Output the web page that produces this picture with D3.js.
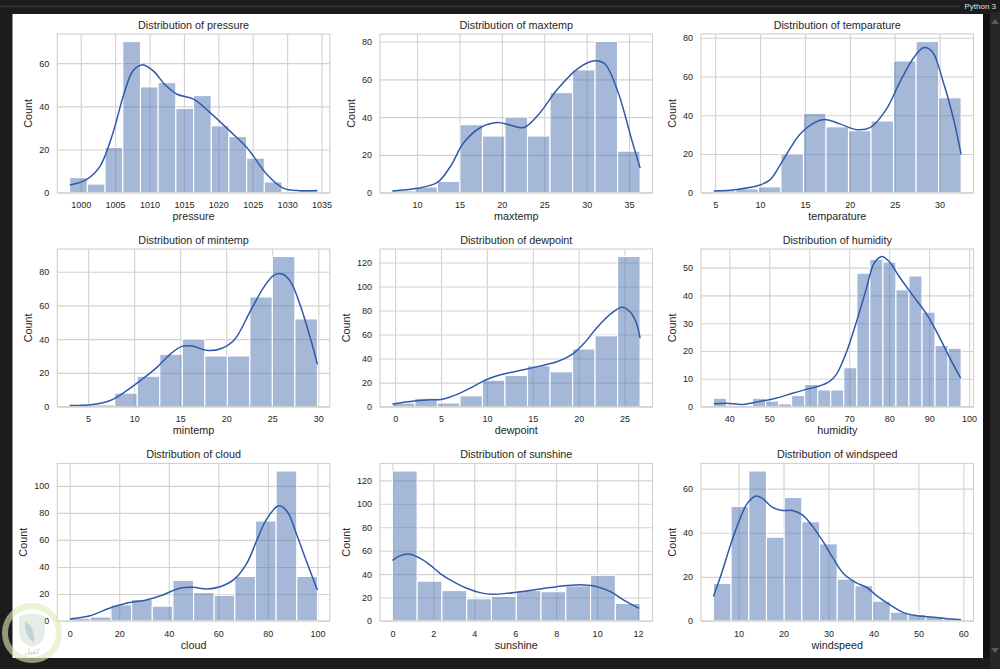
<!DOCTYPE html>
<html>
<head>
<meta charset="utf-8">
<script src="https://cdn.jsdelivr.net/npm/d3@7"></script>
<style>
  body { margin: 0; background: #1c1c1c; }
  svg text { font-family: "Liberation Sans", Arial, sans-serif; }
</style>
</head>
<body>
<svg id="fig" width="1000" height="669"></svg>
<script>
// histogram counts per bin, data range [min, max], kde as [x, count]
var pressureRange = [998.4, 1034.4];
var pressureCounts = [7, 4, 21, 70, 49, 51, 39, 45, 31, 26, 16, 5, 0, 1];
var pressureKde = [[998.4, 3.5], [1000.9, 6.2], [1002.8, 12.2], [1004.7, 27.8], [1006.2, 44.9], [1007.6, 56.5],
  [1008.9, 59.2], [1010.5, 56.5], [1012.4, 49.5], [1014.0, 45.6], [1016.4, 43.3], [1018.8, 37.1], [1021.7, 28.5],
  [1024.2, 20.7], [1027.1, 8.3], [1029.5, 2.0], [1031.9, 0.95], [1034.4, 1.0]];
var pressureXTicks = [1000, 1005, 1010, 1015, 1020, 1025, 1030, 1035];
var pressureYTicks = [0, 20, 40, 60];

var maxtempRange = [7.1, 36.3];
var maxtempCounts = [1, 3, 6, 36, 30, 40, 30, 53, 65, 80, 22];
var maxtempKde = [[7.1, 0.9], [10, 2.3], [12.4, 5.4], [13.95, 14], [15.5, 26.4], [17.5, 34.5], [19.5, 37.1],
  [21.05, 35.7], [22.6, 34.5], [24.2, 40.7], [26.6, 55], [28.96, 65.7], [30.9, 69.8], [32.1, 68.4],
  [33.7, 53.2], [35.3, 28.2], [36.3, 13]];
var maxtempXTicks = [10, 15, 20, 25, 30, 35];
var maxtempYTicks = [0, 20, 40, 60, 80];

var temparatureRange = [4.8, 32.4];
var temparatureCounts = [1, 2, 3, 20, 41, 34, 32, 37, 68, 78, 49];
var temparatureKde = [[4.85, 0.9], [7.4, 1.7], [10, 4], [11.1, 6.6], [12.6, 17.1], [14.45, 30.2], [16.3, 36.7],
  [17.4, 37.7], [18.9, 35.5], [20.8, 32.5], [22.3, 33.7], [24.1, 43.3], [25.6, 57.3], [27.1, 69.5],
  [28.2, 74.8], [29.15, 73], [30.4, 57.3], [31.6, 37.2], [32.4, 19.7]];
var temparatureXTicks = [5, 10, 15, 20, 25, 30];
var temparatureYTicks = [0, 20, 40, 60, 80];

var mintempRange = [3.0, 29.9];
var mintempCounts = [1, 1, 8, 18, 31, 40, 30, 30, 65, 89, 52];
var mintempKde = [[3.0, 0.6], [5.5, 1.2], [7.4, 3.6], [9.2, 9.5], [10.7, 15.5], [12.5, 23.4], [13.96, 31.3],
  [15.2, 35.7], [16.3, 35.9], [17.95, 33.3], [19.4, 34.3], [20.84, 39.3], [22.66, 57.1], [24.1, 71],
  [25.2, 78], [26.1, 78.6], [27.0, 74], [28.1, 59], [29.2, 39.3], [29.9, 25]];
var mintempXTicks = [5, 10, 15, 20, 25, 30];
var mintempYTicks = [0, 20, 40, 60, 80];

var dewpointRange = [-0.3, 26.7];
var dewpointCounts = [3, 7, 3, 9, 22, 26, 34, 29, 48, 59, 125];
var dewpointKde = [[-0.3, 2.2], [2.1, 4.7], [3.7, 5.6], [5.15, 6.1], [7.0, 11], [8.5, 16.7], [10.3, 23.6],
  [12.2, 27.8], [14.0, 30.6], [15.85, 33.9], [17.7, 37.5], [19.2, 43], [20.6, 52.8], [22.1, 66.7],
  [23.6, 77.8], [24.7, 82.8], [25.6, 79], [26.3, 69.4], [26.7, 57]];
var dewpointXTicks = [0, 5, 10, 15, 20, 25];
var dewpointYTicks = [0, 20, 40, 60, 80, 100, 120];

var humidityRange = [36, 98];
var humidityCounts = [3, 0, 0, 3, 2, 1, 4, 8, 6, 6, 14, 48, 53, 52, 42, 47, 34, 22, 21];
var humidityKde = [[36.1, 1], [39.2, 1.2], [43.3, 0.8], [47.5, 1.8], [51.7, 3], [55.8, 4.8], [59.2, 6.2],
  [62.5, 7.4], [65, 9], [66.7, 11.4], [69.2, 19.2], [71.7, 30], [74.2, 42], [76.25, 51.6], [78.2, 54],
  [80, 52.2], [82.5, 46.8], [85.8, 40.2], [89.2, 33.6], [92.5, 25.2], [95, 18], [97.9, 10.2]];
var humidityXTicks = [40, 50, 60, 70, 80, 90, 100];
var humidityYTicks = [0, 10, 20, 30, 40, 50];

var cloudRange = [0, 100];
var cloudCounts = [2, 3, 12, 16, 11, 30, 21, 19, 33, 74, 111, 33];
var cloudKde = [[0, 1.5], [7.85, 3.7], [16, 9.4], [22.8, 13.1], [30.9, 15.6], [37.6, 19.3], [44.4, 24.2],
  [49.8, 24.9], [55.3, 23.7], [60.7, 25.4], [66.1, 30.4], [71.5, 42.7], [75.6, 60], [79.7, 76],
  [84.4, 85.2], [87.8, 81], [91.9, 62.5], [95.9, 42.7], [100, 23]];
var cloudXTicks = [0, 20, 40, 60, 80, 100];
var cloudYTicks = [0, 20, 40, 60, 80, 100];

var sunshineRange = [0, 12.1];
var sunshineCounts = [128, 34, 26, 19, 21, 26, 25, 30, 39, 15];
var sunshineKde = [[0, 51.6], [0.36, 55.6], [0.85, 57], [1.34, 53.6], [1.83, 47.9], [2.32, 40.7], [2.97, 33.6],
  [3.63, 27.9], [4.28, 24.2], [4.93, 22.8], [5.59, 23.6], [6.24, 25], [6.89, 26.5], [7.71, 28.5],
  [8.53, 30.2], [9.34, 30.8], [10.0, 29.3], [10.65, 25], [11.3, 17.9], [12.05, 10.8]];
var sunshineXTicks = [0, 2, 4, 6, 8, 10, 12];
var sunshineYTicks = [0, 20, 40, 60, 80, 100, 120];

var windspeedRange = [4.4, 59.5];
var windspeedCounts = [17, 52, 68, 38, 56, 45, 35, 19, 16, 9, 4, 3, 2, 1];
var windspeedKde = [[4.4, 11.1], [6.25, 21.8], [8.14, 34], [10, 44.7], [11.87, 53.1], [13.74, 56.6],
  [15.24, 55.7], [17.48, 51.6], [19.73, 50.1], [21.97, 50.1], [24.2, 48.1], [26.46, 42.9], [28.7, 36.3],
  [30.95, 28.7], [33.2, 21.8], [36.2, 17.3], [38.45, 15.3], [40.7, 11.5], [43.7, 7.3], [46.67, 3.8],
  [49.7, 2.4], [53.4, 1.7], [57.2, 0.9], [59.5, 0.6]];
var windspeedXTicks = [10, 20, 30, 40, 50, 60];
var windspeedYTicks = [0, 20, 40, 60];

var panels = [
  { name: 'pressure', range: pressureRange, counts: pressureCounts, kde: pressureKde, xTicks: pressureXTicks, yTicks: pressureYTicks },
  { name: 'maxtemp', range: maxtempRange, counts: maxtempCounts, kde: maxtempKde, xTicks: maxtempXTicks, yTicks: maxtempYTicks },
  { name: 'temparature', range: temparatureRange, counts: temparatureCounts, kde: temparatureKde, xTicks: temparatureXTicks, yTicks: temparatureYTicks },
  { name: 'mintemp', range: mintempRange, counts: mintempCounts, kde: mintempKde, xTicks: mintempXTicks, yTicks: mintempYTicks },
  { name: 'dewpoint', range: dewpointRange, counts: dewpointCounts, kde: dewpointKde, xTicks: dewpointXTicks, yTicks: dewpointYTicks },
  { name: 'humidity', range: humidityRange, counts: humidityCounts, kde: humidityKde, xTicks: humidityXTicks, yTicks: humidityYTicks },
  { name: 'cloud', range: cloudRange, counts: cloudCounts, kde: cloudKde, xTicks: cloudXTicks, yTicks: cloudYTicks },
  { name: 'sunshine', range: sunshineRange, counts: sunshineCounts, kde: sunshineKde, xTicks: sunshineXTicks, yTicks: sunshineYTicks },
  { name: 'windspeed', range: windspeedRange, counts: windspeedCounts, kde: windspeedKde, xTicks: windspeedXTicks, yTicks: windspeedYTicks }
];

// layout of the 3x3 grid
var colLefts = [57.3, 380, 701];
var colWidth = 272.5;
var rowTops = [34, 249, 463.5];
var rowBottoms = [192.7, 406.6, 621];

var BAR = '#4c72b0';
var LINE = '#2f5aa8';
var GRID = '#d2d2d2';
var TEXT = '#262626';

var svg = d3.select('#fig');

// notebook frame
svg.append('rect').attr('width', 1000).attr('height', 669).attr('fill', '#1c1c1c');
svg.append('line').attr('x1', 0).attr('x2', 960).attr('y1', 6.5).attr('y2', 6.5)
  .attr('stroke', '#3a3a3a').attr('stroke-width', 1.5);
svg.append('text').attr('x', 996).attr('y', 9).attr('text-anchor', 'end')
  .attr('font-size', 8).attr('fill', '#e0e0e0').text('Python 3');
svg.append('rect').attr('x', 983).attr('y', 14).attr('width', 7).attr('height', 644).attr('fill', '#111');
svg.append('rect').attr('x', 990).attr('y', 12).attr('width', 10).attr('height', 657).attr('fill', '#262626');
svg.append('path').attr('d', 'M991,24 L995,19 L999,24 Z').attr('fill', '#5a5a5a');
svg.append('path').attr('d', 'M991,648 L995,653 L999,648 Z').attr('fill', '#5a5a5a');
svg.append('rect').attr('x', 12.5).attr('y', 14).attr('width', 970.5).attr('height', 644).attr('fill', '#fff');

var drawPanel = function(p, idx) {
  var left = colLefts[idx % 3];
  var top = rowTops[Math.floor(idx / 3)];
  var bottom = rowBottoms[Math.floor(idx / 3)];
  var width = colWidth;
  var height = bottom - top;

  var span = p.range[1] - p.range[0];
  var x = d3.scaleLinear()
    .domain([p.range[0] - 0.05 * span, p.range[1] + 0.05 * span])
    .range([0, width]);

  var yMax = d3.max([d3.max(p.counts), d3.max(p.kde, function(d) { return d[1]; })]) * 1.05;
  var y = d3.scaleLinear().domain([0, yMax]).range([height, 0]);

  var g = svg.append('g').attr('transform', 'translate(' + left + ',' + top + ')');

  var xAxis = g.append('g')
    .attr('transform', 'translate(0,' + height + ')')
    .call(d3.axisBottom(x).tickValues(p.xTicks).tickFormat(d3.format('d'))
      .tickSizeInner(-height).tickSizeOuter(0).tickPadding(9.3));
  var yAxis = g.append('g')
    .call(d3.axisLeft(y).tickValues(p.yTicks).tickFormat(d3.format('d'))
      .tickSizeInner(-width).tickSizeOuter(0).tickPadding(8));

  [xAxis, yAxis].forEach(function(a) {
    a.attr('font-family', null).attr('font-size', null);
    a.select('.domain').remove();
    a.selectAll('.tick line').attr('stroke', GRID).attr('stroke-width', 1.1);
    a.selectAll('.tick text').attr('fill', TEXT).attr('font-size', 9);
  });

  var binW = span / p.counts.length;
  g.selectAll('rect.bar')
    .data(p.counts.map(function(c, i) { return { x0: p.range[0] + i * binW, x1: p.range[0] + (i + 1) * binW, c: c }; })
      .filter(function(d) { return d.c > 0; }))
    .enter().append('rect')
    .attr('class', 'bar')
    .attr('x', function(d) { return x(d.x0); })
    .attr('width', function(d) { return x(d.x1) - x(d.x0); })
    .attr('y', function(d) { return y(d.c); })
    .attr('height', function(d) { return y(0) - y(d.c); })
    .attr('fill', BAR)
    .attr('fill-opacity', 0.5)
    .attr('stroke', '#fff')
    .attr('stroke-width', 1.1);

  var line = d3.line()
    .x(function(d) { return x(d[0]); })
    .y(function(d) { return y(d[1]); })
    .curve(d3.curveCatmullRom.alpha(0.5));

  g.append('path')
    .datum(p.kde)
    .attr('d', line)
    .attr('fill', 'none')
    .attr('stroke', LINE)
    .attr('stroke-width', 1.5);

  // spines
  g.append('rect')
    .attr('width', width).attr('height', height)
    .attr('fill', 'none').attr('stroke', GRID).attr('stroke-width', 1.2);

  g.append('text')
    .attr('x', width / 2).attr('y', -5.5)
    .attr('text-anchor', 'middle').attr('font-size', 10.8).attr('fill', TEXT)
    .text('Distribution of ' + p.name);

  g.append('text')
    .attr('x', width / 2).attr('y', height + 27.5)
    .attr('text-anchor', 'middle').attr('font-size', 10.8).attr('fill', TEXT)
    .text(p.name);

  var maxW = d3.max(yAxis.selectAll('.tick text').nodes(), function(n) { return n.getComputedTextLength(); });
  g.append('text')
    .attr('transform', 'translate(' + (-8 - maxW - 11) + ',' + (height / 2) + ') rotate(-90)')
    .attr('text-anchor', 'middle').attr('dominant-baseline', 'central')
    .attr('font-size', 10.8).attr('fill', TEXT)
    .text('Count');
};

panels.forEach(drawPanel);

// watermark, bottom left
var wm = svg.append('g').attr('transform', 'translate(32,633)').attr('opacity', 0.6);
wm.append('circle').attr('r', 27).attr('fill', 'none').attr('stroke', '#e2ebb8').attr('stroke-width', 6);
wm.append('path').attr('d', 'M-13,-17 Q0,-22 13,-17 L13,-2 Q13,10 0,14 Q-13,10 -13,-2 Z')
  .attr('fill', '#d4e2d6');
wm.append('path').attr('d', 'M-7,-12 Q3,-6 2,10 Q-8,2 -7,-12 Z').attr('fill', '#97b6bd');
wm.append('text').attr('x', 0).attr('y', 21).attr('text-anchor', 'middle')
  .attr('font-size', 8).attr('fill', '#b5b5b5').attr('font-family', 'DejaVu Sans').text('كفيل');
</script>
</body>
</html>
